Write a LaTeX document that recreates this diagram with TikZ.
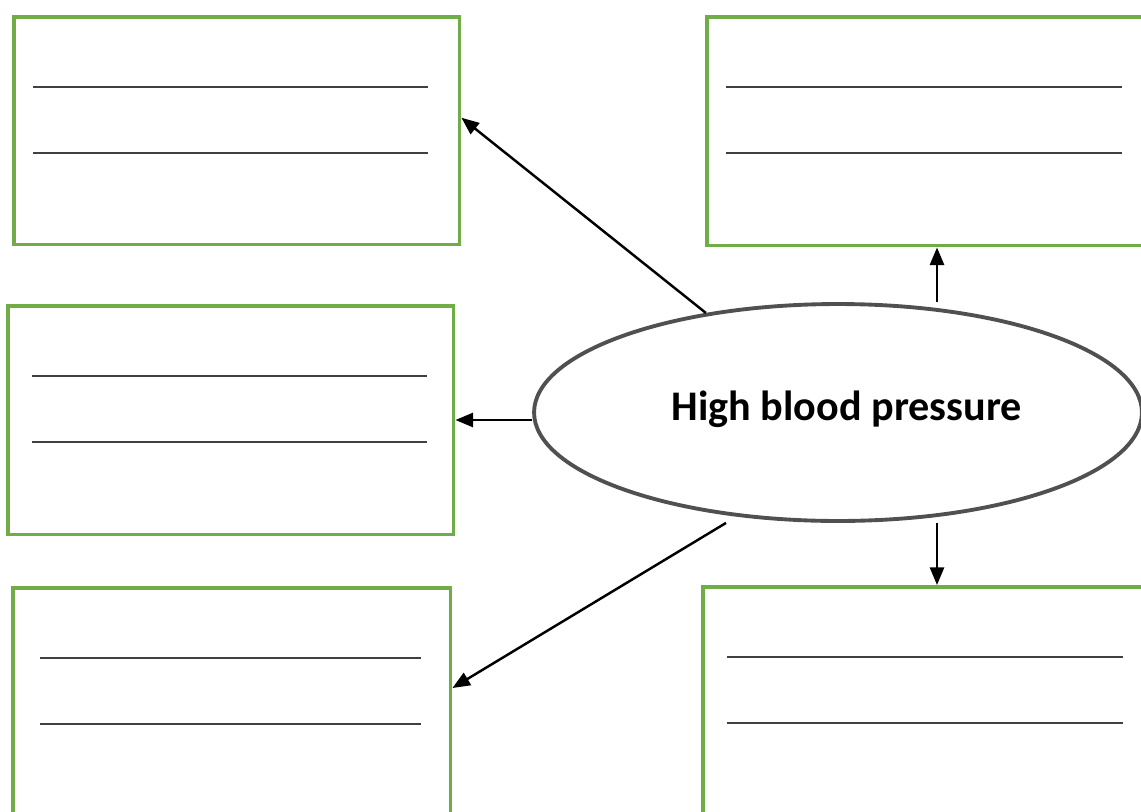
\documentclass[tikz,border=0pt]{standalone}
\usepackage{fontspec}
\setmainfont{Carlito}
\usetikzlibrary{shapes.geometric,arrows.meta}
\definecolor{boxgreen}{HTML}{70AD47}
\definecolor{rimgray}{HTML}{505050}
\begin{document}
\begin{tikzpicture}[x=0.02cm,y=-0.02cm,
  box/.style={draw=boxgreen,line width=2pt,anchor=north west,inner sep=0pt},
  blank/.style={draw=black!75,line width=1.5pt},
  arr/.style={line width=1.4pt,-{Triangle[length=10pt,width=8pt]}}]
\useasboundingbox (0,0) rectangle (1141,811);
% answer boxes
\node[box,minimum width=8.92cm,minimum height=4.56cm] (tl) at (12,15) {};
\node[box,minimum width=8.82cm,minimum height=4.58cm] (tr) at (705,15) {};
\node[box,minimum width=8.92cm,minimum height=4.58cm] (ml) at (6,304) {};
\node[box,minimum width=8.76cm,minimum height=4.60cm] (bl) at (11,586) {};
\node[box,minimum width=8.90cm,minimum height=4.62cm] (br) at (701,585) {};
% writing lines
\foreach \b/\dx/\len in {tl/21/395,tr/21/396,ml/26/395,bl/29/381,br/26/396}{
  \draw[blank] (\b.north west) ++(\dx,72) -- ++(\len,0);
  \draw[blank] (\b.north west) ++(\dx,138) -- ++(\len,0);
}
% centre
\node[ellipse,draw=rimgray,line width=2.2pt,fill=white,inner sep=0pt,
  minimum width=12.16cm,minimum height=4.34cm,
  font=\bfseries\fontsize{24}{28}\selectfont] (hbp) at (838,412.5) {\hspace{10pt}High blood pressure\raisebox{0pt}[0pt][8pt]{}};
% arrows
\draw[arr] (hbp.143) -- ([yshift=0.26cm]tl.east);
\draw[arr] (hbp.north -| 937,0) -- (tr.south -| 937,0);
\draw[arr] (hbp.west |- 0,420) -- (ml.east |- 0,420);
\draw[arr] (hbp.south -| 726,0) -- (bl.east |- 0,688);
\draw[arr] (hbp.south -| 937,0) -- (br.north -| 937,0);
\end{tikzpicture}
\end{document}
